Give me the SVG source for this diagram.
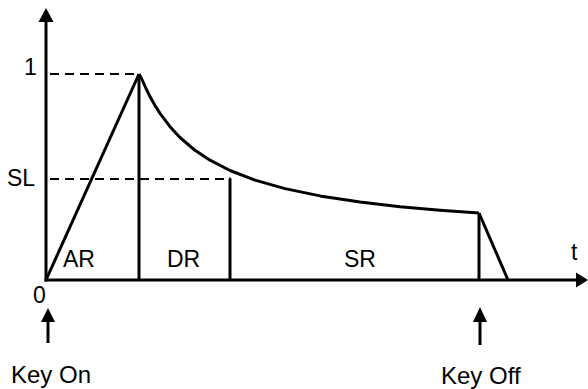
<svg xmlns="http://www.w3.org/2000/svg" width="588" height="389" viewBox="0 0 588 389">
<style>
.ln{fill:none;stroke:#000;stroke-width:3;stroke-linecap:butt;stroke-linejoin:round}
.dash{fill:none;stroke:#000;stroke-width:2.2;stroke-dasharray:9,6}
.ah{fill:#000;stroke:none}
text{font-family:"Liberation Sans",Arial,Helvetica,sans-serif;font-size:23px;fill:#000}
.key{font-size:24px}
</style>
<rect width="588" height="389" fill="#fff"/>
<g id="axes">
<line class="ln" x1="46" y1="20" x2="46" y2="281.5"/>
<polygon class="ah" points="46,8 38.5,22 53.5,22"/>
<line class="ln" x1="44.5" y1="280" x2="578" y2="280"/>
<polygon class="ah" points="588,280 576,272.5 576,287.5"/>
</g>
<g id="guides">
<line class="dash" x1="50" y1="74" x2="139" y2="74"/>
<polyline class="dash" points="50,179 230,179"/>
</g>
<g id="envelope">
<line class="ln" x1="46" y1="280" x2="139" y2="74"/>
<path class="ln" d="M139,74 L142,79.5 L146,88.5 L150,96.6 L155,105.5 L160,113.4 L170,126.7 L180,137.5 L195,150.3 L210,160.2 L230,170.5 L255,180.1 L285,188.6 L320,195.9 L360,202 L400,206.7 L440,210.3 L479,213.1"/>
<line class="ln" x1="479" y1="213" x2="508" y2="280"/>
</g>
<g id="dividers">
<line class="ln" x1="139" y1="74" x2="139" y2="280"/>
<polyline class="ln" points="229,179 230,179 230,280"/>
<line class="ln" x1="479" y1="213" x2="479" y2="280"/>
</g>
<g id="labels">
<text x="24" y="75">1</text>
<text x="7" y="186">SL</text>
<text x="33" y="303">0</text>
<text x="63" y="267">AR</text>
<text x="167" y="267">DR</text>
<text x="344" y="267">SR</text>
<text x="571" y="260">t</text>
</g>
<g id="key-on">
<line class="ln" x1="48" y1="318" x2="48" y2="343"/>
<polygon class="ah" points="48,308 41,322 55,322"/>
<text class="key" x="11" y="383">Key On</text>
</g>
<g id="key-off">
<line class="ln" x1="480" y1="318" x2="480" y2="345"/>
<polygon class="ah" points="480,307 473,322 487,322"/>
<text class="key" x="441" y="384">Key Off</text>
</g>
</svg>
